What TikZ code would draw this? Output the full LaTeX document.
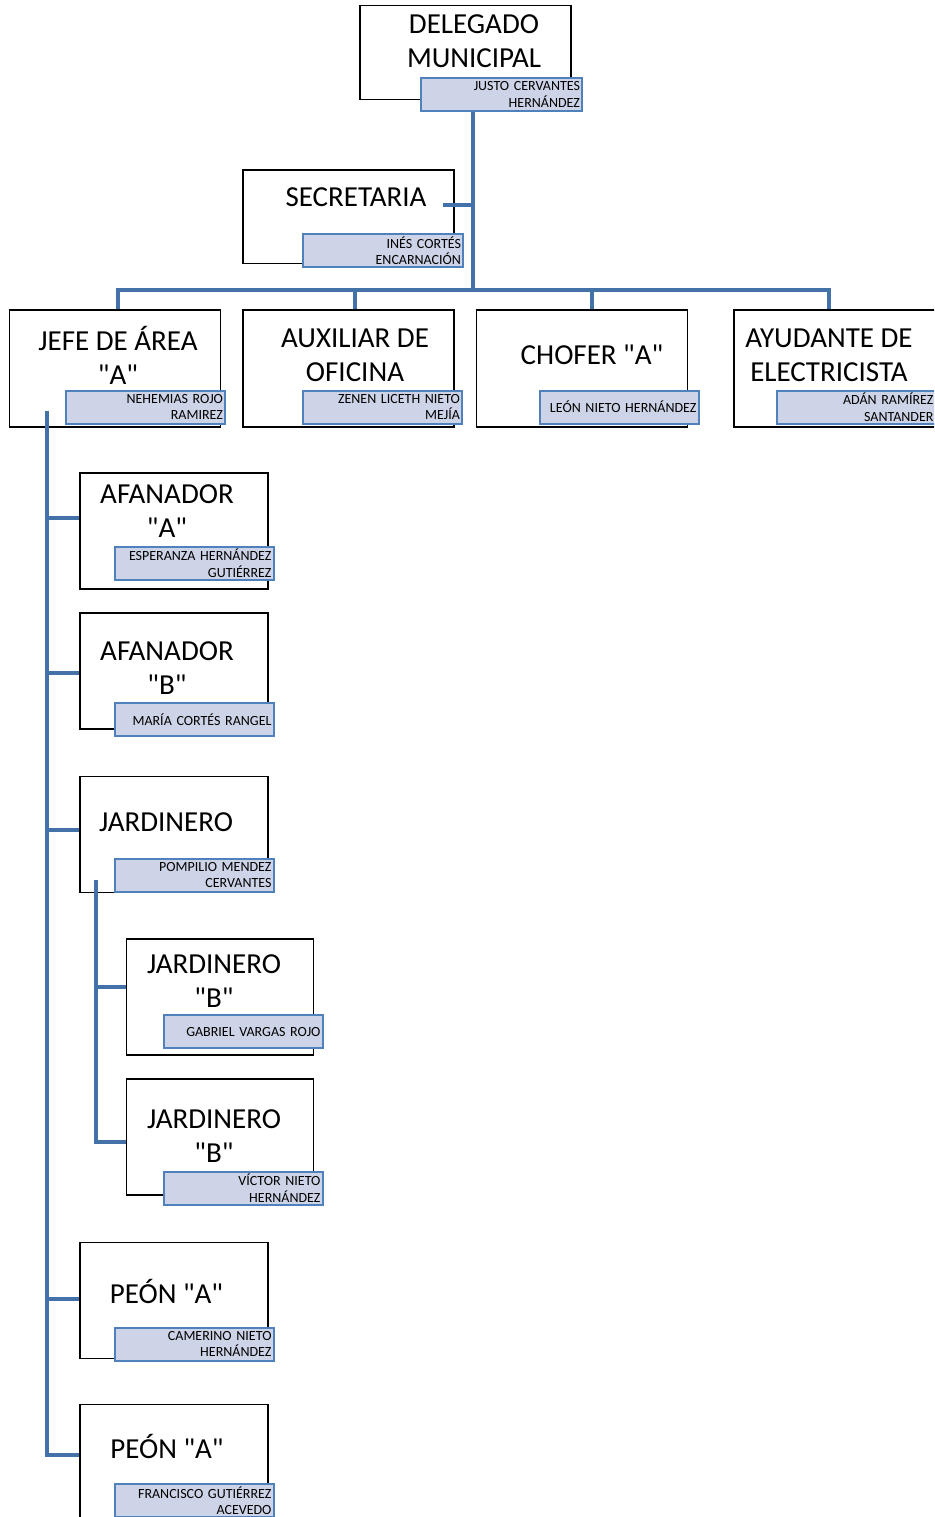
\documentclass[tikz,border=0pt]{standalone}
\usepackage{fontspec}
\newfontfamily\carl{Carlito}
\newcommand{\qq}{"}
\newcommand{\labfont}{\carl\fontsize{14}{16.5}\selectfont\spaceskip 0.2em plus 0pt\relax}
\newcommand{\titfont}{\carl\fontsize{29}{34}\selectfont}
\definecolor{conncol}{HTML}{4272A8}
\definecolor{labfill}{HTML}{CED4E7}
\definecolor{labline}{HTML}{4F81BD}
\begin{document}
\begin{tikzpicture}[x=1pt,y=-1pt,
 mainbox/.style={draw=black,line width=1.5pt,fill=white,anchor=north west,inner sep=0pt},
 namebox/.style={draw=labline,fill=labfill,line width=2pt,anchor=north west,inner sep=2pt,align=right,font=\labfont},
 title/.style={inner sep=0pt,align=center,font=\titfont},
 conn/.style={draw=conncol,line width=4pt}]
\useasboundingbox (0,0) rectangle (934,1517);
\clip (0,0) rectangle (934,1517);

% main boxes
\node[mainbox,minimum width=211pt,minimum height=94pt] (del) at (359,5) {};
\node[mainbox,minimum width=211pt,minimum height=93pt] (sec) at (242,169.5) {};
\node[mainbox,minimum width=211pt,minimum height=117pt] (jefe) at (8.5,309) {};
\node[mainbox,minimum width=211pt,minimum height=117pt] (aux) at (242,309) {};
\node[mainbox,minimum width=211pt,minimum height=117pt] (cho) at (475.5,309) {};
\node[mainbox,minimum width=211pt,minimum height=117pt] (ayu) at (733,309) {};
\node[mainbox,minimum width=188pt,minimum height=116pt] (afaA) at (79,472) {};
\node[mainbox,minimum width=188pt,minimum height=116pt] (afaB) at (79,612) {};
\node[mainbox,minimum width=188pt,minimum height=116pt] (jar) at (79,775.5) {};
\node[mainbox,minimum width=187pt,minimum height=116pt] (jarB) at (125.5,938) {};
\node[mainbox,minimum width=187pt,minimum height=116pt] (jarC) at (125.5,1078) {};
\node[mainbox,minimum width=188pt,minimum height=116pt] (peA) at (79,1241.5) {};
\node[mainbox,minimum width=188pt,minimum height=130pt] (peB) at (79,1403.5) {};

% titles
\node[title] (delT) at (474,41) {DELEGADO\\MUNICIPAL};
\node[title] (secT) at (356,197.5) {SECRETARIA};
\node[title] (jefeT) at (118,355) {JEFE DE ÁREA\\\qq A\qq};
\node[title] (auxT) at (355,355) {AUXILIAR DE\\OFICINA};
\node[title] (choT) at (592,355) {CHOFER \qq A\qq};
\node[title] (ayuT) at (829,355) {AYUDANTE DE\\ELECTRICISTA};
\node[title] (afaAT) at (167,511) {AFANADOR\\\qq A\qq};
\node[title] (afaBT) at (167,668.5) {AFANADOR\\\qq B\qq};
\node[title] (jarT) at (166,822) {JARDINERO};
\node[title] (jarBT) at (214,981) {JARDINERO\\\qq B\qq};
\node[title] (jarCT) at (214,1136) {JARDINERO\\\qq B\qq};
\node[title] (peAT) at (166.5,1291) {PEÓN \qq A\qq};
\node[title] (peBT) at (167,1446.5) {PEÓN \qq A\qq};

% name labels
\node[namebox,text width=157pt,minimum height=33pt] (delL) at (420,77) {JUSTO CERVANTES\\HERNÁNDEZ};
\node[namebox,text width=156pt,minimum height=33pt] (secL) at (302,233) {INÉS CORTÉS\\ENCARNACIÓN};
\node[namebox,text width=155pt,minimum height=33pt] (jefeL) at (65,389.5) {NEHEMIAS ROJO\\RAMIREZ};
\node[namebox,text width=155pt,minimum height=33pt] (auxL) at (302,389.5) {ZENEN LICETH NIETO\\MEJÍA};
\node[namebox,text width=155pt,minimum height=33pt] (choL) at (538.5,389.5) {LEÓN NIETO HERNÁNDEZ};
\node[namebox,text width=155pt,minimum height=33pt] (ayuL) at (775.5,389.5) {ADÁN RAMÍREZ\\SANTANDER};
\node[namebox,text width=155pt,minimum height=33pt] (afaAL) at (113.5,545.5) {ESPERANZA HERNÁNDEZ\\GUTIÉRREZ};
\node[namebox,text width=155pt,minimum height=33pt] (afaBL) at (113.5,702) {MARÍA CORTÉS RANGEL};
\node[namebox,text width=155pt,minimum height=33pt] (jarL) at (113.5,857.5) {POMPILIO MENDEZ\\CERVANTES};
\node[namebox,text width=155pt,minimum height=33pt] (jarBL) at (162.5,1014) {GABRIEL VARGAS ROJO};
\node[namebox,text width=155pt,minimum height=33pt] (jarCL) at (162.5,1170.5) {VÍCTOR NIETO\\HERNÁNDEZ};
\node[namebox,text width=155pt,minimum height=33pt] (peAL) at (113.5,1326.5) {CAMERINO NIETO\\HERNÁNDEZ};
\node[namebox,text width=155pt,minimum height=33pt] (peBL) at (113.5,1483) {FRANCISCO GUTIÉRREZ\\ACEVEDO};

% connectors
\coordinate (tr) at (473,290);
\coordinate (secC) at (443,205);
\coordinate (jv) at (47,411);
\coordinate (jdv) at (96,880);

\draw[conn] (delL.south -| tr) -- (tr);
\draw[conn] (secC) -- (secC -| tr);
\draw[conn] (jefeT |- jefe.north) |- (ayuT |- tr) -- (ayuT |- ayu.north);
\draw[conn] (auxT |- tr) -- (auxT |- aux.north);
\draw[conn] (choT |- tr) -- (choT |- cho.north);

\draw[conn] (jv) |- (peB.west |- 0,1455);
\draw[conn] (jv |- 0,518) -- (afaA.west |- 0,518);
\draw[conn] (jv |- 0,673) -- (afaB.west |- 0,673);
\draw[conn] (jv |- 0,830) -- (jar.west |- 0,830);
\draw[conn] (jv |- 0,1299) -- (peA.west |- 0,1299);

\draw[conn] (jdv) |- (jarC.west |- 0,1142);
\draw[conn] (jdv |- 0,987) -- (jarB.west |- 0,987);
\end{tikzpicture}
\end{document}
